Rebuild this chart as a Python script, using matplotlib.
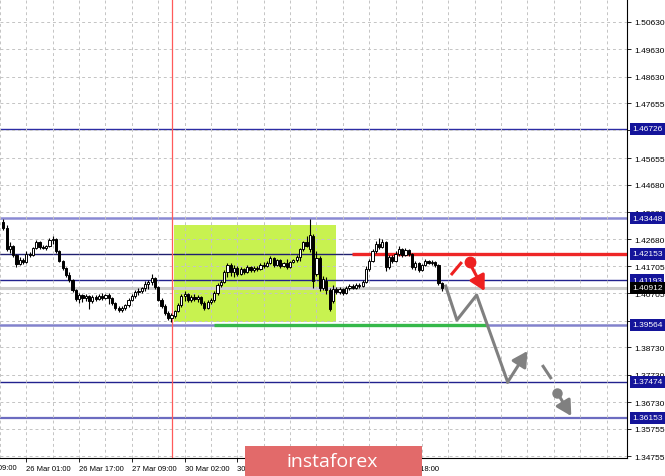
import numpy as np
import matplotlib.pyplot as plt
from matplotlib.patches import Rectangle

# H1 candles, index = hour bar
opens = [1.4331, 1.4309, 1.4233, 1.4244, 1.4211, 1.4178, 1.4192, 1.4185, 1.4214, 1.4211,
         1.4236, 1.4258, 1.4240, 1.4236, 1.4244, 1.4266, 1.4269, 1.4225, 1.4189, 1.4163,
         1.4138, 1.4119, 1.4083, 1.4050, 1.4064, 1.4053, 1.4061, 1.4042, 1.4057, 1.4050,
         1.4061, 1.4053, 1.4064, 1.4053, 1.4035, 1.4017, 1.4009, 1.4017, 1.4028, 1.4046,
         1.4061, 1.4075, 1.4079, 1.4090, 1.4105, 1.4112, 1.4127, 1.4094, 1.4046, 1.4024,
         1.3998, 1.3980, 1.3987, 1.4006, 1.4028, 1.4061, 1.4068, 1.4046, 1.4057, 1.4050,
         1.4057, 1.4035, 1.4017, 1.4039, 1.4046, 1.4072, 1.4101, 1.4112, 1.4148, 1.4174,
         1.4148, 1.4163, 1.4141, 1.4159, 1.4148, 1.4167, 1.4156, 1.4163, 1.4159, 1.4174,
         1.4170, 1.4181, 1.4200, 1.4174, 1.4192, 1.4170, 1.4181, 1.4167, 1.4185, 1.4192,
         1.4203, 1.4233, 1.4258, 1.4233, 1.4280, 1.4141, 1.4200, 1.4090, 1.4116, 1.4083,
         1.4042, 1.4086, 1.4075, 1.4086, 1.4072, 1.4090, 1.4097, 1.4090, 1.4101, 1.4097,
         1.4112, 1.4159, 1.4189, 1.4225, 1.4251, 1.4240, 1.4258, 1.4167, 1.4203, 1.4189,
         1.4214, 1.4233, 1.4211, 1.4229, 1.4214, 1.4167, 1.4181, 1.4156, 1.4174, 1.4189,
         1.4181, 1.4185, 1.4174, 1.4108]
highs = [1.4342, 1.4320, 1.4258, 1.4247, 1.4214, 1.4203, 1.4200, 1.4225, 1.4222, 1.4240,
         1.4266, 1.4262, 1.4247, 1.4247, 1.4273, 1.4280, 1.4273, 1.4229, 1.4192, 1.4167,
         1.4148, 1.4123, 1.4086, 1.4072, 1.4068, 1.4068, 1.4064, 1.4064, 1.4064, 1.4068,
         1.4072, 1.4068, 1.4072, 1.4057, 1.4039, 1.4024, 1.4024, 1.4031, 1.4053, 1.4068,
         1.4083, 1.4090, 1.4094, 1.4116, 1.4119, 1.4141, 1.4130, 1.4097, 1.4053, 1.4031,
         1.4006, 1.3998, 1.4009, 1.4035, 1.4068, 1.4079, 1.4072, 1.4064, 1.4068, 1.4064,
         1.4061, 1.4042, 1.4046, 1.4053, 1.4079, 1.4108, 1.4119, 1.4156, 1.4181, 1.4181,
         1.4174, 1.4170, 1.4167, 1.4163, 1.4174, 1.4170, 1.4170, 1.4170, 1.4181, 1.4185,
         1.4189, 1.4207, 1.4203, 1.4196, 1.4196, 1.4185, 1.4196, 1.4189, 1.4196, 1.4211,
         1.4236, 1.4262, 1.4280, 1.4342, 1.4287, 1.4225, 1.4207, 1.4134, 1.4130, 1.4090,
         1.4101, 1.4094, 1.4094, 1.4090, 1.4097, 1.4105, 1.4105, 1.4108, 1.4108, 1.4119,
         1.4170, 1.4196, 1.4233, 1.4262, 1.4273, 1.4269, 1.4262, 1.4211, 1.4211, 1.4225,
         1.4244, 1.4236, 1.4236, 1.4233, 1.4218, 1.4189, 1.4185, 1.4178, 1.4196, 1.4192,
         1.4192, 1.4189, 1.4178, 1.4112]
lows = [1.4302, 1.4225, 1.4218, 1.4203, 1.4167, 1.4174, 1.4178, 1.4181, 1.4203, 1.4207,
        1.4233, 1.4233, 1.4233, 1.4229, 1.4240, 1.4251, 1.4218, 1.4185, 1.4156, 1.4130,
        1.4112, 1.4075, 1.4042, 1.4035, 1.4039, 1.4042, 1.4013, 1.4035, 1.4042, 1.4046,
        1.4046, 1.4050, 1.4031, 1.4028, 1.4009, 1.4002, 1.4002, 1.4009, 1.4020, 1.4042,
        1.4053, 1.4064, 1.4072, 1.4079, 1.4086, 1.4101, 1.4086, 1.4042, 1.4017, 1.3991,
        1.3973, 1.3966, 1.3980, 1.4002, 1.4020, 1.4042, 1.4039, 1.4039, 1.4042, 1.4039,
        1.4028, 1.4009, 1.4013, 1.4031, 1.4039, 1.4064, 1.4094, 1.4108, 1.4130, 1.4134,
        1.4130, 1.4134, 1.4138, 1.4141, 1.4145, 1.4148, 1.4148, 1.4152, 1.4156, 1.4163,
        1.4167, 1.4178, 1.4167, 1.4170, 1.4163, 1.4167, 1.4159, 1.4163, 1.4181, 1.4185,
        1.4189, 1.4225, 1.4240, 1.4222, 1.4090, 1.4134, 1.4079, 1.4083, 1.4068, 1.4006,
        1.4035, 1.4068, 1.4068, 1.4064, 1.4068, 1.4083, 1.4086, 1.4086, 1.4090, 1.4094,
        1.4108, 1.4152, 1.4185, 1.4218, 1.4233, 1.4236, 1.4152, 1.4159, 1.4181, 1.4185,
        1.4207, 1.4203, 1.4207, 1.4207, 1.4159, 1.4156, 1.4148, 1.4152, 1.4170, 1.4178,
        1.4174, 1.4167, 1.4101, 1.4079]
closes = [1.4309, 1.4233, 1.4244, 1.4211, 1.4178, 1.4192, 1.4185, 1.4214, 1.4211, 1.4236,
          1.4258, 1.4240, 1.4236, 1.4244, 1.4266, 1.4269, 1.4225, 1.4189, 1.4163, 1.4138,
          1.4119, 1.4083, 1.4050, 1.4064, 1.4053, 1.4061, 1.4042, 1.4057, 1.4050, 1.4061,
          1.4053, 1.4064, 1.4053, 1.4035, 1.4017, 1.4009, 1.4017, 1.4028, 1.4046, 1.4061,
          1.4075, 1.4079, 1.4090, 1.4105, 1.4112, 1.4127, 1.4094, 1.4046, 1.4024, 1.3998,
          1.3980, 1.3991, 1.4006, 1.4028, 1.4061, 1.4068, 1.4046, 1.4057, 1.4050, 1.4057,
          1.4035, 1.4017, 1.4039, 1.4046, 1.4072, 1.4101, 1.4112, 1.4148, 1.4174, 1.4148,
          1.4163, 1.4141, 1.4159, 1.4148, 1.4167, 1.4156, 1.4163, 1.4159, 1.4174, 1.4170,
          1.4181, 1.4200, 1.4174, 1.4192, 1.4170, 1.4181, 1.4167, 1.4185, 1.4192, 1.4203,
          1.4233, 1.4258, 1.4244, 1.4284, 1.4116, 1.4200, 1.4090, 1.4123, 1.4083, 1.4013,
          1.4086, 1.4075, 1.4086, 1.4072, 1.4090, 1.4097, 1.4090, 1.4101, 1.4097, 1.4112,
          1.4159, 1.4189, 1.4225, 1.4251, 1.4240, 1.4258, 1.4167, 1.4203, 1.4189, 1.4214,
          1.4233, 1.4211, 1.4229, 1.4214, 1.4167, 1.4181, 1.4156, 1.4174, 1.4189, 1.4181,
          1.4185, 1.4174, 1.4108, 1.4090]

price_ticks = [1.50630, 1.49630, 1.48630, 1.47655, 1.46680, 1.45655, 1.44680, 1.43680,
               1.42680, 1.41705, 1.40705, 1.39705, 1.38730, 1.37730, 1.36730, 1.35755, 1.34755]
time_labels = ['25 Mar 09:00', '26 Mar 01:00', '26 Mar 17:00', '27 Mar 09:00',
               '30 Mar 02:00', '30 Mar 18:00', '31 Mar 10:00', '01 Apr 02:00', '01 Apr 18:00']

levels = [1.46726, 1.43448, 1.42153, 1.41193, 1.40912, 1.39564, 1.37474, 1.36153]
level_colors = ['#2c2ca4', '#8a8ad4', '#202070', '#22228e', '#cccccc', '#8282cc', '#22228e', '#6c6cc0']
level_widths = [1.0, 1.8, 1.0, 1.0, 2.2, 1.8, 1.0, 1.6]
box_colors = ['#14149a', '#14149a', '#14149a', '#14149a', '#000000', '#14149a', '#14149a', '#14149a']

# objects drawn on the chart (hour index, price)
vline_hour = 51.2
zone = (51.8, 101.0, 1.39657, 1.43205)
support = (63.9, 146.6, 1.39564)
resist = (105.8, 1.42153)
red_stroke = ([135.8, 139.1], [1.41375, 1.41850])
red_dot = (141.5, 1.41850)
red_arrow = ((142.1, 1.41667), (146.0, 1.40789))
gray_path = ([134.2, 137.6, 143.6, 153.0], [1.40972, 1.39728, 1.40643, 1.37461])
gray_up = ((153.0, 1.37461), (159.0, 1.38595))
gray_dash = ([163.5, 166.3], [1.38083, 1.37571])
gray_dot = (168.1, 1.37059)
gray_down = ((168.1, 1.37059), (172.3, 1.36217))

fig = plt.figure(figsize=(6.65, 4.77), dpi=100)
ax = fig.add_axes([0, 18/477, 627/665, 459/477])
ax.set_xlim(-0.5, 189.2)
ax.set_ylim(1.34683, 1.51471)

x = np.arange(len(closes))
o = np.array(opens); c = np.array(closes)
up = c >= o
body_lo = np.minimum(o, c)
body_h = np.maximum(np.abs(c - o), 0.00006)
ax.vlines(x, lows, highs, color='black', lw=0.8, zorder=4)
ax.bar(x, body_h, bottom=body_lo, width=0.66, color=np.where(up, 'white', 'black'),
       edgecolor='black', linewidth=0.7, zorder=5)

# zone and levels
ax.add_patch(Rectangle((zone[0], zone[2]), zone[1]-zone[0], zone[3]-zone[2],
                       fc='#c8f250', ec='none', zorder=0.5))
for lv, col, lw in zip(levels, level_colors, level_widths):
    ax.axhline(lv, color=col, lw=lw, zorder=2)
ax.axvline(vline_hour, color='#ff5a5a', lw=0.9, zorder=3)
ax.plot([support[0], support[1]], [support[2]]*2, color='#35b84a', lw=2.4, zorder=3,
        solid_capstyle='butt')
ax.plot([resist[0], 189.2], [resist[1]]*2, color='#ee2626', lw=2.4, zorder=3,
        solid_capstyle='butt')

# forecast
head = '-|>,head_length=0.6,head_width=0.33'
ax.plot(*red_stroke, color='#ee2020', lw=2.2, zorder=6, solid_capstyle='butt')
ax.plot(*red_dot, 'o', color='#ee2020', ms=7.5, zorder=6)
ax.annotate('', xy=red_arrow[1], xytext=red_arrow[0],
            arrowprops=dict(arrowstyle=head, color='#ee2020',
                            lw=2.2, mutation_scale=15, shrinkA=0, shrinkB=0), zorder=6)
ax.plot(*gray_path, color='#808080', lw=2.2, zorder=6)
ax.annotate('', xy=gray_up[1], xytext=gray_up[0],
            arrowprops=dict(arrowstyle=head, color='#808080',
                            lw=2.2, mutation_scale=15, shrinkA=0, shrinkB=0), zorder=6)
ax.plot(*gray_dash, color='#808080', lw=2.2, zorder=6, solid_capstyle='butt')
ax.plot(*gray_dot, 'o', color='#808080', ms=6.5, zorder=6)
ax.annotate('', xy=gray_down[1], xytext=gray_down[0],
            arrowprops=dict(arrowstyle=head, color='#808080',
                            lw=2.2, mutation_scale=15, shrinkA=0, shrinkB=0), zorder=6)

# axes
for s in ['top', 'left']:
    ax.spines[s].set_visible(False)
for s in ['right', 'bottom']:
    ax.spines[s].set_linewidth(0.8)
ax.yaxis.tick_right()
ax.set_yticks(price_ticks)
ax.set_yticklabels(['%.5f' % p for p in price_ticks])
major_x = np.arange(-9, 128, 16)
ax.set_xticks(major_x[1:])
ax.set_xticklabels(time_labels[1:], ha='left')
ax.set_xticks(np.arange(-1, 190, 8), minor=True)
ax.tick_params(axis='y', direction='out', length=3, width=0.6, pad=2, labelsize=6)
ax.tick_params(axis='x', which='major', direction='out', length=3, width=0.6, pad=2, labelsize=5.5)
ax.tick_params(axis='x', which='minor', length=0)
for lab in ax.get_xticklabels() + ax.get_yticklabels():
    lab.set_fontfamily('Liberation Sans')
for lab in ax.get_xticklabels():
    lab.set_x(lab.get_position()[0])
ax.text(major_x[0] - 0.5, -0.012, time_labels[0], transform=ax.get_xaxis_transform(),
        ha='left', va='top', fontsize=5.5, family='Liberation Sans', clip_on=False)
ax.grid(axis='y', color='#c4c4c4', ls=(0, (3, 3)), lw=0.7, zorder=1)
ax.grid(axis='x', which='both', color='#c4c4c4', ls=(0, (3, 3)), lw=0.7, zorder=1)
ax.set_axisbelow(False)

for lv, bc in zip(levels, box_colors):
    ax.text(1.008, lv, '%.5f' % lv, transform=ax.get_yaxis_transform(), color='white',
            fontsize=6, family='Liberation Sans', ha='left', va='center', clip_on=False,
            bbox=dict(boxstyle='square,pad=0.3', fc=bc, ec='none'), zorder=10)

# watermark banner
fig.patches.append(Rectangle((245/665, 0), 177/665, 30/477, transform=fig.transFigure,
                             fc='#e26a6a', ec='none', zorder=5))
fig.text(332/665, 15/477, 'instaforex', color='white', fontsize=14, family='Open Sans',
         ha='center', va='center', zorder=6)

fig.savefig('out.png', dpi=100)
